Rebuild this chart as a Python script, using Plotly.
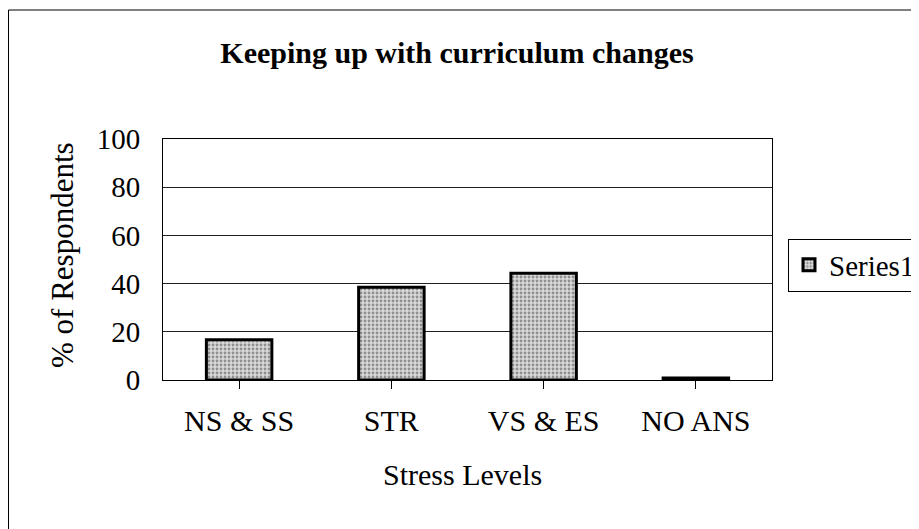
import plotly.graph_objects as go

cat_labels = ["NS & SS", "STR", "VS & ES", "NO ANS"]
values = [16.7, 38.5, 44.3, 0.8]
y_ticks = [0, 20, 40, 60, 80, 100]

OFF = 8  # page body margin
W, H = 919 - OFF, 529 - OFF
# plot area in page pixels
PL, PR, PT, PB = 163, 772, 139, 380
L, T = PL - OFF, PT - OFF
R, B = W - (PR - OFF), H - (PB - OFF)
pw, ph = W - L - R, H - T - B

def px(x):
    return (x - OFF - L) / pw

def py(y):
    return (PB - y) / ph

serif = "Liberation Serif, Times New Roman, serif"

fig = go.Figure()
fig.add_trace(go.Bar(
    x=cat_labels, y=values, name="Series1",
    width=0.43,
    marker=dict(
        color="#c8c8c8",
        line=dict(color="black", width=3),
        pattern=dict(shape=".", fgcolor="#444444", bgcolor="#dadada", size=4, solidity=0.4),
    ),
))

fig.update_layout(
    width=W, height=H,
    margin=dict(l=L, r=R, t=T, b=B, autoexpand=False),
    paper_bgcolor="white", plot_bgcolor="white",
    font=dict(family=serif, color="black", size=30),
    title=dict(text="<b>Keeping up with curriculum changes</b>", x=(457 - OFF) / W, xanchor="center",
               y=1 - (52 - OFF) / H, yanchor="middle", font=dict(size=30, family=serif)),
    showlegend=True,
    legend=dict(x=px(788), y=py(265), xanchor="left", yanchor="middle",
                bordercolor="black", borderwidth=1, bgcolor="white",
                font=dict(size=29, family=serif), itemwidth=30, tracegroupgap=0),
    xaxis=dict(showline=True, linecolor="black", linewidth=1, mirror=True,
               ticks="outside", ticklen=8, tickcolor="black", ticklabelstandoff=6,
               tickfont=dict(size=30)),
    yaxis=dict(range=[0, 100], tickvals=y_ticks, showline=True, linecolor="black", linewidth=1,
               mirror=True, showgrid=True, gridcolor="#222222", gridwidth=1,
               ticks="", ticklabelstandoff=16, tickfont=dict(size=29)),
    annotations=[
        dict(text="Stress Levels", xref="paper", yref="paper", x=px(462), y=py(474),
             xanchor="center", yanchor="middle", showarrow=False, font=dict(size=30)),
        dict(text="% of Respondents", xref="paper", yref="paper", x=px(62), y=py(255),
             xanchor="center", yanchor="middle", showarrow=False, textangle=-90,
             font=dict(size=31)),
    ],
    shapes=[dict(type="rect", xref="paper", yref="paper",
                 x0=px(8.5), x1=px(940), y0=py(560), y1=py(10),
                 line=dict(color="black", width=1), layer="below")],
)

fig.write_html("out.html")
